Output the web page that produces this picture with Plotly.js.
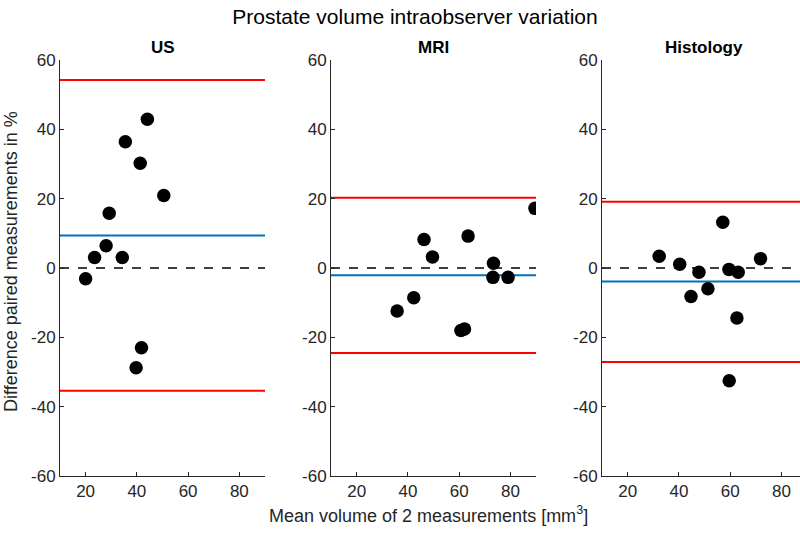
<!DOCTYPE html>
<html>
<head>
<meta charset="utf-8">
<script src="https://cdn.plot.ly/plotly-3.0.1.min.js"></script>
<style>html,body{margin:0;padding:0;background:#fff;}#chart{width:800px;height:533px;}</style>
</head>
<body>
<div id="chart"></div>
<script>
// ---- data ----
const panelNames = ["US", "MRI", "Histology"];

const usMean = [20.0, 23.5, 28.0, 29.2, 34.3, 35.5, 41.3, 44.1, 50.5, 41.8, 39.7];
const usDiff = [-3.1, 3.0, 6.4, 15.8, 3.0, 36.4, 30.2, 42.9, 20.9, -23.0, -28.8];
const usBias = 9.4;
const usUpper = 54.2;
const usLower = -35.4;

const mriMean = [35.8, 42.3, 46.3, 49.6, 60.7, 62.1, 63.5, 73.4, 73.2, 79.1, 89.6];
const mriDiff = [-12.4, -8.6, 8.2, 3.2, -18.0, -17.6, 9.2, 1.4, -2.7, -2.7, 17.2];
const mriBias = -2.1;
const mriUpper = 20.3;
const mriLower = -24.5;

const histMean = [32.3, 40.3, 44.7, 47.8, 51.3, 57.1, 59.5, 63.1, 62.6, 59.6, 71.8];
const histDiff = [3.4, 1.1, -8.2, -1.2, -6.0, 13.2, -0.4, -1.2, -14.4, -32.5, 2.7];
const histBias = -3.9;
const histUpper = 19.1;
const histLower = -27.1;

const xTickVals = [20, 40, 60, 80];
const xTickText = ["20", "40", "60", "80"];
const yTickVals = [-60, -40, -20, 0, 20, 40, 60];
const yTickText = ["-60", "-40", "-20", "0", "20", "40", "60"];
const lineX = [10, 90];

const panels = [
  {mean: usMean, diff: usDiff, bias: usBias, up: usUpper, lo: usLower},
  {mean: mriMean, diff: mriDiff, bias: mriBias, up: mriUpper, lo: mriLower},
  {mean: histMean, diff: histDiff, bias: histBias, up: histUpper, lo: histLower}
];

const axColor = "#262626";
const font = "Liberation Sans, Arial, sans-serif";
const xDomains = [[60/800, 265/800], [331/800, 536/800], [602/800, 1]];
const xRanges = [[10, 90], [10, 90], [10, 87.2]];
const yDomain = [(533-476)/533, (533-60)/533];

const traces = [];
const layout = {
  width: 800, height: 533,
  margin: {l: 0, r: 0, t: 0, b: 0},
  paper_bgcolor: "#fff", plot_bgcolor: "#fff",
  showlegend: false,
  font: {family: font, size: 17, color: axColor},
  title: {text: "Prostate volume intraobserver variation", font: {family: font, size: 21, color: "#000"},
          x: 415/800, xanchor: "center", y: 1 - 17/533, yanchor: "middle"},
  annotations: [],
};

panels.forEach((p, i) => {
  const xa = "x" + (i === 0 ? "" : i + 1);
  const ya = "y" + (i === 0 ? "" : i + 1);
  traces.push({x: lineX, y: [0, 0], mode: "lines", xaxis: xa, yaxis: ya,
    line: {color: "#000", width: 1.6, dash: "dash"}, hoverinfo: "skip"});
  traces.push({x: lineX, y: [p.bias, p.bias], mode: "lines", xaxis: xa, yaxis: ya,
    line: {color: "#0072BD", width: 2}, hoverinfo: "skip"});
  traces.push({x: lineX, y: [p.up, p.up], mode: "lines", xaxis: xa, yaxis: ya,
    line: {color: "#FF0000", width: 2}, hoverinfo: "skip"});
  traces.push({x: lineX, y: [p.lo, p.lo], mode: "lines", xaxis: xa, yaxis: ya,
    line: {color: "#FF0000", width: 2}, hoverinfo: "skip"});
  traces.push({x: p.mean, y: p.diff, mode: "markers", xaxis: xa, yaxis: ya,
    marker: {color: "#000", size: 13.5, symbol: "circle"}});

  const xKey = "xaxis" + (i === 0 ? "" : i + 1);
  const yKey = "yaxis" + (i === 0 ? "" : i + 1);
  layout[xKey] = {
    domain: xDomains[i], range: xRanges[i], anchor: ya,
    tickvals: xTickVals, ticktext: xTickText, ticks: "inside", ticklen: 4, tickcolor: axColor, tickwidth: 1,
    showline: true, linecolor: axColor, linewidth: 1, showgrid: false, zeroline: false,
    tickfont: {family: font, size: 17, color: axColor}, fixedrange: true
  };
  layout[yKey] = {
    domain: yDomain, range: [-60, 60], anchor: xa,
    tickvals: yTickVals, ticktext: yTickText, ticks: "inside", ticklen: 4, tickcolor: axColor, tickwidth: 1,
    showline: true, linecolor: axColor, linewidth: 1, showgrid: false, zeroline: false,
    tickfont: {family: font, size: 17, color: axColor}, fixedrange: true
  };
  const dom = xDomains[i];
  const cx = i === 2 ? 704 / 800 : (dom[0] + dom[1]) / 2;
  layout.annotations.push({
    text: "<b>" + panelNames[i] + "</b>", xref: "paper", yref: "paper",
    x: cx, y: 1 - 47/533, xanchor: "center", yanchor: "middle", showarrow: false,
    font: {family: font, size: 17, color: "#000"}
  });
});

layout.annotations.push({
  text: "Mean volume of 2 measurements [mm<sup>3</sup>]", xref: "paper", yref: "paper",
  x: 428/800, y: 1 - 514/533, xanchor: "center", yanchor: "middle", showarrow: false,
  font: {family: font, size: 18, color: axColor}
});
layout.annotations.push({
  text: "Difference paired measurements in %", xref: "paper", yref: "paper",
  x: 11/800, y: 1 - 262/533, xanchor: "center", yanchor: "middle", showarrow: false,
  textangle: -90, font: {family: font, size: 18, color: axColor}
});

Plotly.newPlot("chart", traces, layout, {displayModeBar: false, staticPlot: true});
</script>
</body>
</html>
